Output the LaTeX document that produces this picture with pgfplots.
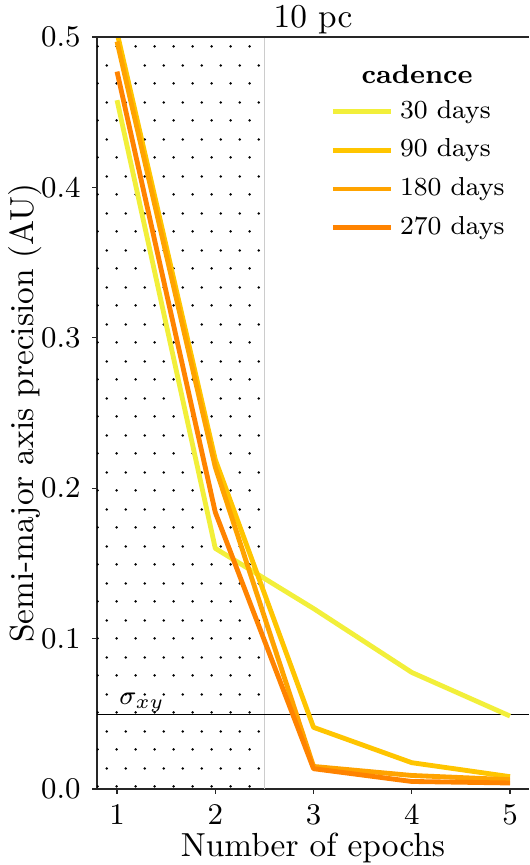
\documentclass[border=0pt]{standalone}
\usepackage{pgfplots}
\pgfplotsset{compat=1.18}
\usetikzlibrary{patterns.meta}
\pgfdeclarepattern{name=sparsedots, type=uncolored,
  bottom left={\pgfpoint{0pt}{0pt}}, top right={\pgfpoint{5.6pt}{11.1pt}},
  tile size={\pgfpoint{5.6pt}{11.1pt}},
  code={\pgfpathcircle{\pgfpoint{1.4pt}{1.4pt}}{0.42pt}\pgfpathcircle{\pgfpoint{4.2pt}{6.95pt}}{0.42pt}\pgfusepath{fill}}}
\definecolor{c30}{HTML}{F2EF3A}
\definecolor{c90}{HTML}{FFC500}
\definecolor{c180}{HTML}{FFA300}
\definecolor{c270}{HTML}{FF8300}
\begin{document}
\begin{tikzpicture}
\useasboundingbox (-29.1pt,-22.8pt) rectangle (129.6pt,236.7pt);
\begin{axis}[name=ax, at={(0pt,0pt)}, anchor=south west,
  scale only axis, width=129.6pt, height=225.6pt,
  xmin=0.796, xmax=5.193, ymin=0, ymax=0.5,
  axis x line*=bottom, axis y line*=left,
  axis line style={-, draw=black!85, line width=0.45pt},
  tick align=outside, major tick length=1.4pt,
  tick style={draw=black!85, line width=0.4pt},
  xtick={1,2,3,4,5}, ytick={0,0.1,0.2,0.3,0.4,0.5},
  yticklabel style={/pgf/number format/.cd, fixed, fixed zerofill, precision=1},
  ticklabel style={font=\fontsize{8.8}{10}\selectfont},
  xlabel={Number of epochs}, ylabel={Semi-major axis precision (AU)},
  label style={font=\fontsize{9.6}{11}\selectfont},
  every axis x label/.style={at={(axis description cs:0.5,-0.0785)}, anchor=center},
  every axis y label/.style={at={(axis description cs:-0.1667,0.5)}, anchor=center, rotate=90},
  title={10 pc},
  title style={font=\fontsize{9.3}{11}\selectfont},
  every axis title/.style={at={(axis description cs:0.5,1.0226)}, anchor=center},
  legend style={draw=none, fill=none, at={(axis description cs:0.539,0.926)}, anchor=north west,
    inner sep=0pt, font=\fontsize{7.8}{9}\selectfont, row sep=0.7pt},
  legend cell align=left,
  legend image code/.code={\draw[#1] (0pt,0pt) -- (17.4pt,0pt);},
  every axis plot/.append style={line width=1.45pt, line join=round},
]
\addplot[draw=none, pattern=sparsedots, pattern color=black, forget plot] coordinates {(0.796,0.5) (2.5,0.5)} \closedcycle;
\addplot[black!20, line width=0.5pt, forget plot] coordinates {(2.5,0) (2.5,0.5)};
\addplot[black, line width=0.45pt, forget plot] coordinates {(0.796,0.0497) (5.193,0.0497)};
\addplot[c30] coordinates {(1,0.458) (2,0.160) (3,0.120) (4,0.0775) (5,0.0485)};
\addlegendentry{30 days}
\addplot[c90] coordinates {(1,0.503) (2,0.219) (3,0.041) (4,0.0175) (5,0.0082)};
\addlegendentry{90 days}
\addplot[c180] coordinates {(1,0.497) (2,0.214) (3,0.015) (4,0.009) (5,0.0062)};
\addlegendentry{180 days}
\addplot[c270] coordinates {(1,0.477) (2,0.184) (3,0.0135) (4,0.005) (5,0.004)};
\addlegendentry{270 days}
\node[anchor=south west, inner sep=0.5pt, font=\fontsize{8}{9}\selectfont] at (axis cs:1.0,0.0497) {$\sigma_{xy}$};
\node[font=\fontsize{8}{9}\selectfont\bfseries] at (axis description cs:0.741,0.951) {cadence};
\end{axis}
\draw[black!85, line width=0.45pt] ([xshift=-1.2pt]ax.north west) -- (ax.north east);
\end{tikzpicture}
\end{document}
